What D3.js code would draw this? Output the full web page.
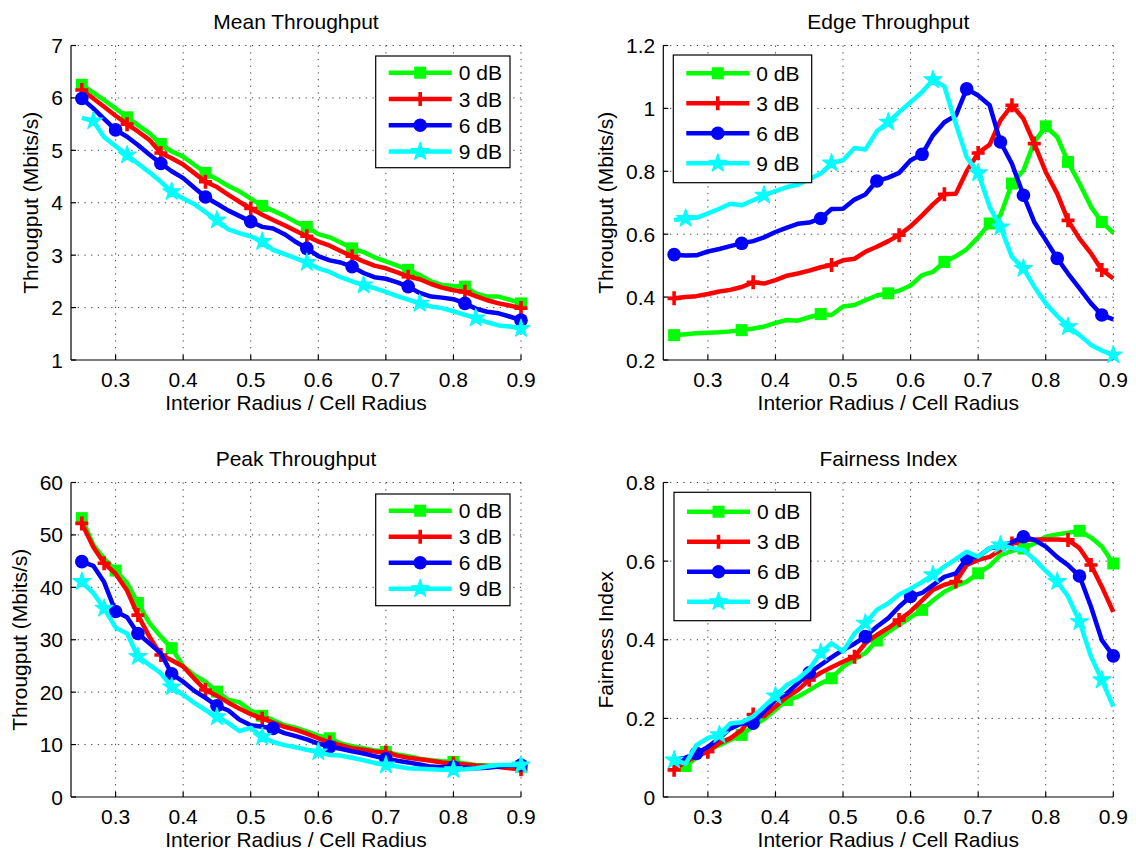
<!DOCTYPE html>
<html><head><meta charset="utf-8">
<script src="https://cdn.jsdelivr.net/npm/d3@7"></script>
<style>
body{margin:0;background:#fff}
svg{display:block}
text{font-family:"Liberation Sans",Arial,Helvetica,sans-serif;fill:#000}
</style>
</head><body>
<svg id="chart" width="1136" height="852"></svg>
<script>
// ---------- data ----------
const radiusRatio = [0.250,0.267,0.283,0.300,0.317,0.333,0.350,0.367,0.383,0.400,0.417,0.433,0.450,0.467,0.483,0.500,0.517,0.533,0.550,0.567,0.583,0.600,0.617,0.633,0.650,0.667,0.683,0.700,0.717,0.733,0.750,0.767,0.783,0.800,0.817,0.833,0.850,0.867,0.883,0.900];
const seriesNames = ["0 dB","3 dB","6 dB","9 dB"];
const xTicks = [0.3,0.4,0.5,0.6,0.7,0.8,0.9];
const meanTicks = [1,2,3,4,5,6,7];
const edgeTicks = [0.2,0.4,0.6,0.8,1,1.2];
const peakTicks = [0,10,20,30,40,50,60];
const fairTicks = [0,0.2,0.4,0.6,0.8];

const mean0 = [6.25,6.10,5.96,5.80,5.63,5.48,5.33,5.12,4.98,4.88,4.72,4.57,4.45,4.32,4.22,4.08,3.94,3.85,3.75,3.63,3.54,3.40,3.34,3.24,3.13,3.06,2.96,2.88,2.80,2.72,2.62,2.50,2.43,2.41,2.40,2.27,2.21,2.21,2.15,2.08];
const mean3 = [6.15,5.99,5.83,5.66,5.50,5.36,5.20,4.95,4.85,4.73,4.56,4.40,4.30,4.15,4.02,3.89,3.77,3.67,3.57,3.46,3.36,3.26,3.18,3.08,2.98,2.88,2.80,2.75,2.67,2.59,2.54,2.45,2.38,2.33,2.30,2.22,2.14,2.08,2.04,1.99];
const mean6 = [5.99,5.80,5.60,5.39,5.26,5.10,4.92,4.75,4.60,4.47,4.28,4.11,3.98,3.85,3.75,3.64,3.54,3.51,3.40,3.25,3.13,2.98,2.90,2.86,2.78,2.66,2.58,2.55,2.48,2.40,2.28,2.21,2.19,2.16,2.08,1.98,1.92,1.89,1.83,1.76];
const mean9 = [5.62,5.56,5.25,5.08,4.91,4.75,4.58,4.40,4.21,4.08,3.97,3.82,3.67,3.49,3.42,3.36,3.26,3.10,3.02,2.94,2.86,2.75,2.68,2.58,2.50,2.43,2.37,2.30,2.22,2.15,2.08,2.02,1.99,1.93,1.86,1.80,1.72,1.66,1.64,1.60];

const edge0 = [0.279,0.282,0.285,0.287,0.288,0.291,0.295,0.300,0.306,0.318,0.327,0.325,0.336,0.346,0.343,0.370,0.375,0.390,0.405,0.412,0.420,0.437,0.470,0.480,0.512,0.530,0.552,0.590,0.634,0.660,0.761,0.803,0.893,0.943,0.909,0.830,0.761,0.687,0.639,0.604];
const edge3 = [0.396,0.400,0.403,0.410,0.418,0.423,0.432,0.447,0.443,0.454,0.468,0.475,0.484,0.495,0.502,0.517,0.522,0.544,0.560,0.578,0.597,0.625,0.660,0.695,0.727,0.729,0.800,0.858,0.885,0.962,1.010,0.967,0.888,0.798,0.729,0.644,0.586,0.539,0.486,0.459];
const edge6 = [0.535,0.532,0.533,0.545,0.553,0.562,0.571,0.578,0.590,0.607,0.621,0.633,0.637,0.650,0.680,0.681,0.710,0.726,0.769,0.780,0.795,0.835,0.854,0.914,0.956,0.978,1.062,1.041,1.010,0.893,0.824,0.724,0.639,0.581,0.523,0.475,0.428,0.380,0.343,0.329];
const edge9 = [0.645,0.650,0.652,0.666,0.681,0.697,0.692,0.708,0.724,0.737,0.750,0.757,0.775,0.793,0.826,0.835,0.874,0.869,0.927,0.956,0.988,1.020,1.052,1.091,1.070,0.950,0.845,0.795,0.687,0.623,0.528,0.491,0.433,0.380,0.340,0.306,0.279,0.248,0.230,0.216];

const peak0 = [53.2,48.1,45.5,43.2,40.8,37.0,33.2,30.6,28.4,25.0,23.2,22.0,20.1,18.5,18.1,16.5,15.5,14.7,13.7,13.2,12.5,11.7,11.2,10.2,9.7,9.3,8.9,8.6,8.1,7.8,7.3,7.0,6.8,6.7,6.4,6.1,6.0,5.9,5.8,5.8];
const peak3 = [52.2,47.7,44.6,42.6,39.4,34.7,30.6,27.1,26.1,24.9,22.5,20.4,19.3,18.0,16.9,15.8,15.0,14.2,13.4,12.8,12.1,11.2,10.4,9.9,9.3,9.0,8.7,8.5,7.9,7.5,7.2,6.9,6.6,6.4,6.2,6.0,5.9,5.7,5.5,5.3];
const peak6 = [44.9,44.1,41.0,35.4,34.3,31.2,29.3,27.4,23.5,22.0,20.2,18.9,17.4,16.5,14.8,13.7,13.4,13.1,12.2,11.6,11.0,10.2,9.6,9.2,8.7,8.3,7.8,7.3,6.9,6.6,6.2,5.8,5.7,5.7,5.6,5.5,5.6,5.8,6.0,6.1];
const peak9 = [41.1,38.9,36.0,32.3,31.2,26.8,25.2,23.6,21.0,19.5,17.9,16.6,15.3,14.1,12.6,13.2,11.5,10.5,9.9,9.5,9.0,8.6,8.0,7.9,7.5,7.0,6.5,6.1,5.8,5.5,5.4,5.3,5.2,5.2,5.3,5.5,5.8,6.1,6.1,6.1];

const fair0 = [0.083,0.079,0.100,0.120,0.132,0.145,0.158,0.180,0.198,0.222,0.247,0.255,0.272,0.289,0.302,0.331,0.350,0.366,0.398,0.420,0.438,0.457,0.476,0.500,0.522,0.537,0.548,0.569,0.588,0.615,0.626,0.632,0.645,0.662,0.668,0.672,0.677,0.660,0.637,0.594];
const fair3 = [0.069,0.090,0.103,0.115,0.137,0.149,0.170,0.210,0.205,0.230,0.255,0.272,0.298,0.316,0.330,0.344,0.357,0.391,0.412,0.430,0.450,0.472,0.500,0.527,0.540,0.548,0.590,0.603,0.611,0.628,0.645,0.654,0.655,0.655,0.655,0.654,0.633,0.590,0.535,0.471];
const fair6 = [0.094,0.100,0.111,0.127,0.150,0.174,0.187,0.188,0.217,0.247,0.264,0.289,0.316,0.336,0.355,0.374,0.390,0.408,0.433,0.455,0.484,0.510,0.519,0.539,0.560,0.569,0.607,0.611,0.633,0.637,0.648,0.662,0.654,0.637,0.610,0.590,0.562,0.484,0.399,0.359];
const fair9 = [0.094,0.085,0.132,0.150,0.158,0.187,0.190,0.205,0.230,0.257,0.285,0.300,0.325,0.367,0.391,0.370,0.416,0.442,0.476,0.493,0.515,0.530,0.547,0.565,0.586,0.605,0.624,0.611,0.633,0.641,0.633,0.628,0.605,0.575,0.548,0.510,0.446,0.357,0.298,0.230];

// indices (into radiusRatio) where each curve carries its marker
const meanMarks = [[0,4,7,11,16,20,24,29,34,39],[0,4,7,11,15,20,24,29,34,39],[0,3,7,11,15,20,24,29,34,39],[1,4,8,12,16,20,25,30,35,39]];
const edgeMarks = [[0,6,13,19,24,28,30,33,35,38],[0,7,14,20,24,27,30,32,35,38],[0,6,13,18,22,26,29,31,34,38],[1,8,14,19,23,27,29,31,35,39]];
const peakMarks = [[0,3,5,8,12,16,22,27,33,39],[0,2,5,7,11,16,22,27,33,39],[0,3,5,8,12,17,22,27,33,39],[0,2,5,8,12,16,21,27,33,39]];
const fairMarks = [[1,6,10,14,18,22,27,31,36,39],[0,3,7,12,16,20,25,30,35,37],[2,7,12,17,21,26,31,36,39],[0,4,9,13,17,23,29,34,36,38]];

// ---------- styling ----------
const colors = ["#00ff00","#ff0000","#0000ff","#00ffff"];
const markerKinds = ["square","plus","circle","star"];
const FS = 21;
const plotW = 450, plotH = 314.5;
const xDomain = [0.234, 0.9];

const panels = [
  {title:"Mean Throughput", ylabel:"Througput (Mbits/s)", left:71, top:45.5, yDomain:[1,7], yTicks:meanTicks,
   series:[mean0,mean3,mean6,mean9], marks:meanMarks, legend:{x:375.7,y:56,w:134.3,h:111.7,r0:16.7,dy:26.3}},
  {title:"Edge Throughput", ylabel:"Througput (Mbits/s)", left:663.3, top:45.5, yDomain:[0.2,1.2], yTicks:edgeTicks,
   series:[edge0,edge3,edge6,edge9], marks:edgeMarks, legend:{x:673.3,y:55,w:138.4,h:127.7,r0:18.3,dy:30}},
  {title:"Peak Throughput", ylabel:"Througput (Mbits/s)", left:71, top:482.5, yDomain:[0,60], yTicks:peakTicks,
   series:[peak0,peak3,peak6,peak9], marks:peakMarks, legend:{x:375.7,y:494,w:134.3,h:111.7,r0:16.7,dy:26}},
  {title:"Fairness Index", ylabel:"Fairness Index", left:663.3, top:482.5, yDomain:[0,0.8], yTicks:fairTicks,
   series:[fair0,fair3,fair6,fair9], marks:fairMarks, legend:{x:674,y:492.3,w:136.7,h:128.4,r0:19.4,dy:30}}
];

const svg = d3.select("#chart");

function drawMarker(g, kind, color, x, y) {
  if (kind === "square") {
    g.append("rect").attr("x", x-6).attr("y", y-6).attr("width", 12).attr("height", 12).attr("fill", color);
  } else if (kind === "circle") {
    g.append("circle").attr("cx", x).attr("cy", y).attr("r", 6.8).attr("fill", color);
  } else if (kind === "plus") {
    g.append("path").attr("d", `M${x-6.5},${y}H${x+6.5}M${x},${y-7}V${y+7}`)
      .attr("stroke", color).attr("stroke-width", 3.6).attr("fill", "none");
  } else {
    g.append("path").attr("transform", `translate(${x},${y})`)
      .attr("d", d3.symbol(d3.symbolStar, 100)())
      .attr("fill", color).attr("stroke", color).attr("stroke-width", 1.2).attr("stroke-linejoin", "round");
  }
}

panels.forEach(p => {
  const g = svg.append("g");
  const x = d3.scaleLinear().domain(xDomain).range([p.left, p.left + plotW]);
  const y = d3.scaleLinear().domain(p.yDomain).range([p.top + plotH, p.top]);
  const bottom = p.top + plotH;

  // grid
  const grid = g.append("g").attr("stroke", "#444").attr("stroke-width", 1).attr("stroke-dasharray", "1.3,5.4");
  xTicks.forEach(t => grid.append("line").attr("x1", x(t)).attr("x2", x(t)).attr("y1", p.top).attr("y2", bottom));
  p.yTicks.forEach(t => { if (t !== p.yDomain[0]) grid.append("line").attr("x1", p.left).attr("x2", p.left + plotW).attr("y1", y(t)).attr("y2", y(t)); });

  // axes (left & bottom), inward ticks
  const ax = g.append("g").attr("stroke", "#000").attr("stroke-width", 1.2);
  ax.append("line").attr("x1", p.left).attr("x2", p.left).attr("y1", p.top).attr("y2", bottom);
  ax.append("line").attr("x1", p.left).attr("x2", p.left + plotW).attr("y1", bottom).attr("y2", bottom);
  xTicks.forEach(t => ax.append("line").attr("x1", x(t)).attr("x2", x(t)).attr("y1", bottom).attr("y2", bottom - 5));
  p.yTicks.forEach(t => ax.append("line").attr("x1", p.left).attr("x2", p.left + 5).attr("y1", y(t)).attr("y2", y(t)));

  // tick labels
  xTicks.forEach(t => g.append("text").attr("x", x(t)).attr("y", bottom + 26.7)
    .attr("text-anchor", "middle").attr("font-size", FS).text(String(t)));
  let minX = Infinity;
  p.yTicks.forEach(t => {
    const tx = g.append("text").attr("x", p.left - 8).attr("y", y(t) + 7.5)
      .attr("text-anchor", "end").attr("font-size", FS).text(String(t));
    minX = Math.min(minX, tx.node().getBBox().x);
  });

  // titles / labels
  g.append("text").attr("x", p.left + plotW/2).attr("y", p.top - 16.5)
    .attr("text-anchor", "middle").attr("font-size", FS).text(p.title);
  g.append("text").attr("x", p.left + plotW/2).attr("y", bottom + 50)
    .attr("text-anchor", "middle").attr("font-size", FS).text("Interior Radius / Cell Radius");
  const ly = p.top + plotH/2, lx = minX - 13;
  g.append("text").attr("transform", `translate(${lx},${ly}) rotate(-90)`)
    .attr("text-anchor", "middle").attr("font-size", FS).text(p.ylabel);

  // series
  const line = d3.line().x(d => x(d[0])).y(d => y(d[1]));
  p.series.forEach((vals, si) => {
    const pts = radiusRatio.map((r, i) => [r, vals[i]]);
    const sg = g.append("g");
    sg.append("path").attr("d", line(pts)).attr("fill", "none").attr("stroke", colors[si])
      .attr("stroke-width", 4.5).attr("stroke-linejoin", "round").attr("stroke-linecap", "butt");
    p.marks[si].forEach(i => drawMarker(sg, markerKinds[si], colors[si], x(radiusRatio[i]), y(vals[i])));
  });

  // legend
  const L = p.legend;
  const lg = g.append("g");
  lg.append("rect").attr("x", L.x).attr("y", L.y).attr("width", L.w).attr("height", L.h)
    .attr("fill", "#fff").attr("stroke", "#000").attr("stroke-width", 1.2);
  seriesNames.forEach((name, si) => {
    const ry = L.y + L.r0 + si * L.dy;
    lg.append("line").attr("x1", L.x + 13).attr("x2", L.x + 76).attr("y1", ry).attr("y2", ry)
      .attr("stroke", colors[si]).attr("stroke-width", 4.5);
    drawMarker(lg, markerKinds[si], colors[si], L.x + 44.5, ry);
    lg.append("text").attr("x", L.x + 83).attr("y", ry + 7.5).attr("font-size", FS).text(name);
  });
});
</script>
</body></html>
